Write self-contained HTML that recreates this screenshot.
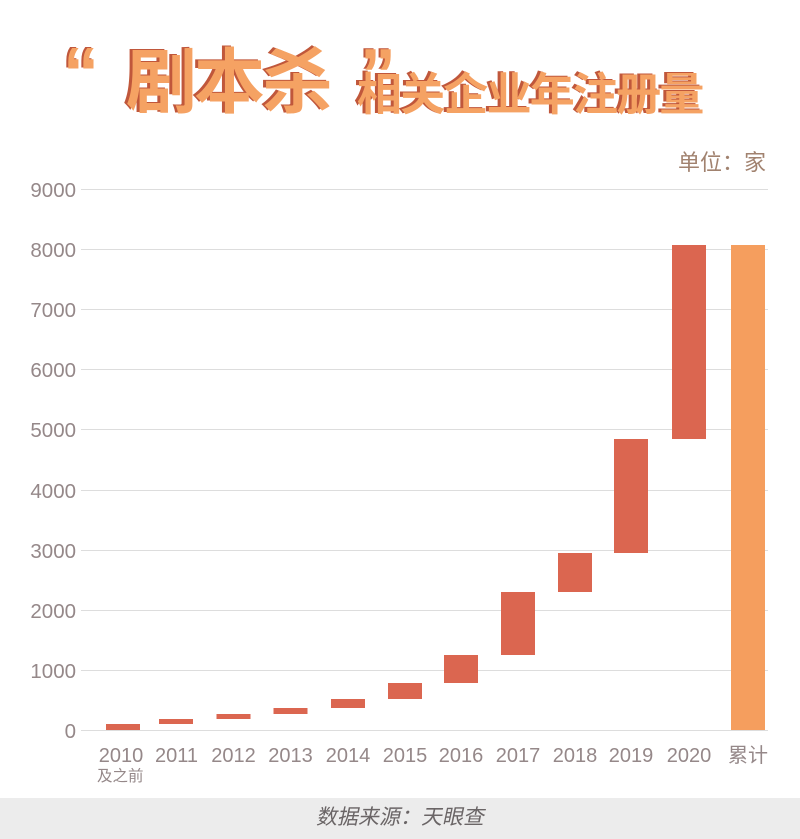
<!DOCTYPE html>
<html>
<head>
<meta charset="utf-8">
<style>
html,body{margin:0;padding:0;background:#fff;}
body{width:800px;height:839px;overflow:hidden;position:relative;}
svg{display:block;}
</style>
</head>
<body>
<svg width="800" height="839" viewBox="0 0 800 839" xmlns="http://www.w3.org/2000/svg">
  <rect x="0" y="0" width="800" height="839" fill="#ffffff"/>

  <!-- Title -->
  <g font-family="'Liberation Sans', sans-serif" font-weight="700" font-size="72">
    <text x="61" y="97" fill="#c0573b">“</text>
    <text x="63" y="98" fill="#f5a263">“</text>
    <text x="358" y="98" fill="#c0573b">”</text>
    <text x="360" y="99" fill="#f5a263">”</text>
  </g>
  <g font-family="'Noto Sans CJK SC', 'WenQuanYi Zen Hei', sans-serif" font-weight="700">
    <text x="123" y="106" font-size="71" letter-spacing="-3" fill="#c0573b">剧本杀</text>
    <text x="126" y="107" font-size="71" letter-spacing="-3" fill="#f5a263">剧本杀</text>
    <text x="354" y="109" font-size="45" letter-spacing="-1.8" fill="#c0573b">相关企业年注册量</text>
    <text x="357" y="110" font-size="45" letter-spacing="-1.8" fill="#f5a263">相关企业年注册量</text>
  </g>

  <!-- Unit label -->
  <text x="766" y="170" text-anchor="end" font-family="'Liberation Sans', 'Noto Sans CJK SC', sans-serif" font-size="22" fill="#a1826f">单位：家</text>

  <!-- Gridlines -->
  <g stroke="#dddddd" stroke-width="1">
    <line x1="81" x2="768" y1="189.5" y2="189.5"/>
    <line x1="81" x2="768" y1="249.5" y2="249.5"/>
    <line x1="81" x2="768" y1="309.5" y2="309.5"/>
    <line x1="81" x2="768" y1="369.5" y2="369.5"/>
    <line x1="81" x2="768" y1="429.5" y2="429.5"/>
    <line x1="81" x2="768" y1="490.5" y2="490.5"/>
    <line x1="81" x2="768" y1="550.5" y2="550.5"/>
    <line x1="81" x2="768" y1="610.5" y2="610.5"/>
    <line x1="81" x2="768" y1="670.5" y2="670.5"/>
    <line x1="81" x2="768" y1="730.5" y2="730.5"/>
  </g>

  <!-- Y tick labels -->
  <g font-family="'Liberation Sans', sans-serif" font-size="20.5" fill="#958889" text-anchor="end">
    <text x="76" y="197">9000</text>
    <text x="76" y="257">8000</text>
    <text x="76" y="317">7000</text>
    <text x="76" y="377">6000</text>
    <text x="76" y="437">5000</text>
    <text x="76" y="498">4000</text>
    <text x="76" y="558">3000</text>
    <text x="76" y="618">2000</text>
    <text x="76" y="678">1000</text>
    <text x="76" y="738">0</text>
  </g>

  <!-- Bars -->
  <g fill="#db6650">
    <rect x="106" y="724" width="34" height="6"/>
    <rect x="159" y="719" width="34" height="5"/>
    <rect x="216.5" y="714" width="34" height="5"/>
    <rect x="273.5" y="708" width="34" height="6"/>
    <rect x="331" y="699" width="34" height="9"/>
    <rect x="388" y="683" width="34" height="16"/>
    <rect x="444" y="655" width="34" height="28"/>
    <rect x="501" y="592" width="34" height="63"/>
    <rect x="558" y="553" width="34" height="39"/>
    <rect x="614" y="439" width="34" height="114"/>
    <rect x="672" y="245" width="34" height="194"/>
  </g>
  <rect x="731" y="245" width="34" height="485" fill="#f59e5e"/>

  <!-- X labels -->
  <g font-family="'Liberation Sans', 'Noto Sans CJK SC', sans-serif" font-size="20" fill="#958889" text-anchor="middle">
    <text x="121" y="762">2010</text>
    <text x="176.5" y="762">2011</text>
    <text x="233.5" y="762">2012</text>
    <text x="290.5" y="762">2013</text>
    <text x="348" y="762">2014</text>
    <text x="405" y="762">2015</text>
    <text x="461" y="762">2016</text>
    <text x="518" y="762">2017</text>
    <text x="575" y="762">2018</text>
    <text x="631" y="762">2019</text>
    <text x="689" y="762">2020</text>
    <text x="748" y="762">累计</text>
  </g>
  <text x="97" y="781" font-family="'Liberation Sans', 'Noto Sans CJK SC', sans-serif" font-size="15.5" fill="#958889">及之前</text>

  <!-- Footer -->
  <rect x="0" y="798" width="800" height="41" fill="#ececec"/>
  <text x="400" y="824" text-anchor="middle" font-family="'Liberation Sans', 'Noto Sans CJK SC', sans-serif" font-size="21" fill="#6a6566" transform="translate(400 824) skewX(-12) translate(-400 -824)">数据来源：天眼查</text>
</svg>
</body>
</html>
